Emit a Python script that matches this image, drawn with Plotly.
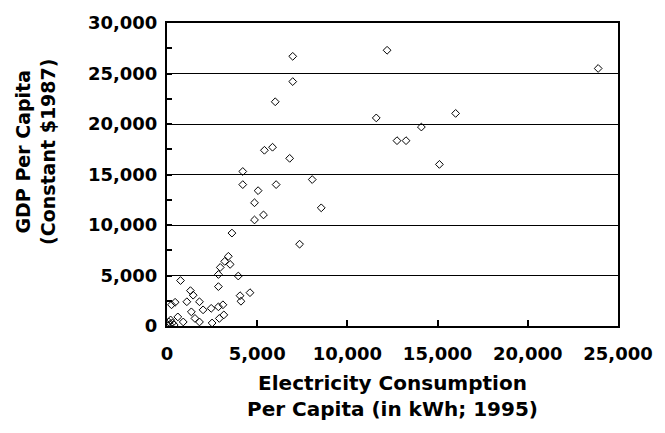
import plotly.graph_objects as go

# Electricity consumption per capita (kWh, 1995) and GDP per capita (constant 1987 $)
elec_kwh = [6970, 12200, 23900, 6970, 6000, 11600, 16000, 14100, 12750, 13250,
            5400, 5850, 6800, 15100, 4200, 4200, 5050, 6050, 8050, 8550,
            4850, 4850, 5350, 3600, 7350, 3400, 3200, 3500, 2950, 2850,
            3950, 2850, 4600, 4050, 4100, 750, 1450, 1100, 1300, 450,
            1800, 2000, 2450, 2850, 3100, 1350, 1550, 2900, 900, 1800,
            2500, 150, 300, 200, 400, 100, 50, 600, 3150, 250]
gdp_pc = [26700, 27300, 25500, 24200, 22200, 20600, 21050, 19700, 18350, 18350,
          17400, 17700, 16600, 16000, 15300, 14000, 13400, 14000, 14500, 11700,
          12200, 10500, 11000, 9200, 8100, 6900, 6400, 6100, 5800, 5100,
          4950, 3900, 3300, 3000, 2450, 4500, 3050, 2400, 3500, 2350,
          2400, 1600, 1750, 1900, 2100, 1400, 750, 750, 400, 400,
          300, 150, 300, 600, 100, 400, 50, 900, 1100, 2100]

x_ticks = [0, 5000, 10000, 15000, 20000, 25000]
y_ticks = [0, 5000, 10000, 15000, 20000, 25000, 30000]

FONT = "DejaVu Sans"

fig = go.Figure()
fig.add_trace(go.Scatter(
    x=elec_kwh, y=gdp_pc, mode="markers",
    marker=dict(symbol="diamond-open", size=6, color="black", line=dict(width=1, color="black")),
    showlegend=False,
))

fig.update_layout(
    width=665, height=433,
    margin=dict(l=167, r=45, t=18, b=107),
    paper_bgcolor="white", plot_bgcolor="white",
    font=dict(family=FONT, color="black"),
    xaxis=dict(
        range=[0, 25000], tickvals=x_ticks, tickformat=",",
        showgrid=False, zeroline=False,
        showline=True, linecolor="black", linewidth=2, mirror=True,
        ticks="inside", ticklen=6, tickwidth=2, tickcolor="black",
        tickfont=dict(family=FONT, size=18, color="black", weight="bold"),
        ticklabelstandoff=10,
        title=dict(text="Electricity Consumption<br>Per Capita (in kWh; 1995)",
                   font=dict(family=FONT, size=20, color="black", weight="bold"),
                   standoff=13),
    ),
    yaxis=dict(
        range=[0, 30000], tickvals=y_ticks, tickformat=",",
        showgrid=True, gridcolor="black", gridwidth=1, zeroline=False,
        showline=True, linecolor="black", linewidth=2, mirror=True,
        ticks="inside", ticklen=5, tickwidth=2, tickcolor="black",
        minor=dict(dtick=2500, ticks="inside", ticklen=5, tickcolor="black", showgrid=False),
        tickfont=dict(family=FONT, size=18, color="black", weight="bold"),
        ticklabelstandoff=4,
    ),
    annotations=[dict(
        text="GDP Per Capita<br>(Constant $1987)",
        xref="paper", yref="paper", x=-0.29, y=0.575,
        xanchor="center", yanchor="middle", textangle=-90, showarrow=False,
        font=dict(family=FONT, size=19, color="black", weight="bold"),
    )],
)

# remove the browser's default 8px body margin so the figure sits at the page origin
fig.write_html("out.html", config={"displayModeBar": False},
               post_script="document.body.style.margin='0';")
